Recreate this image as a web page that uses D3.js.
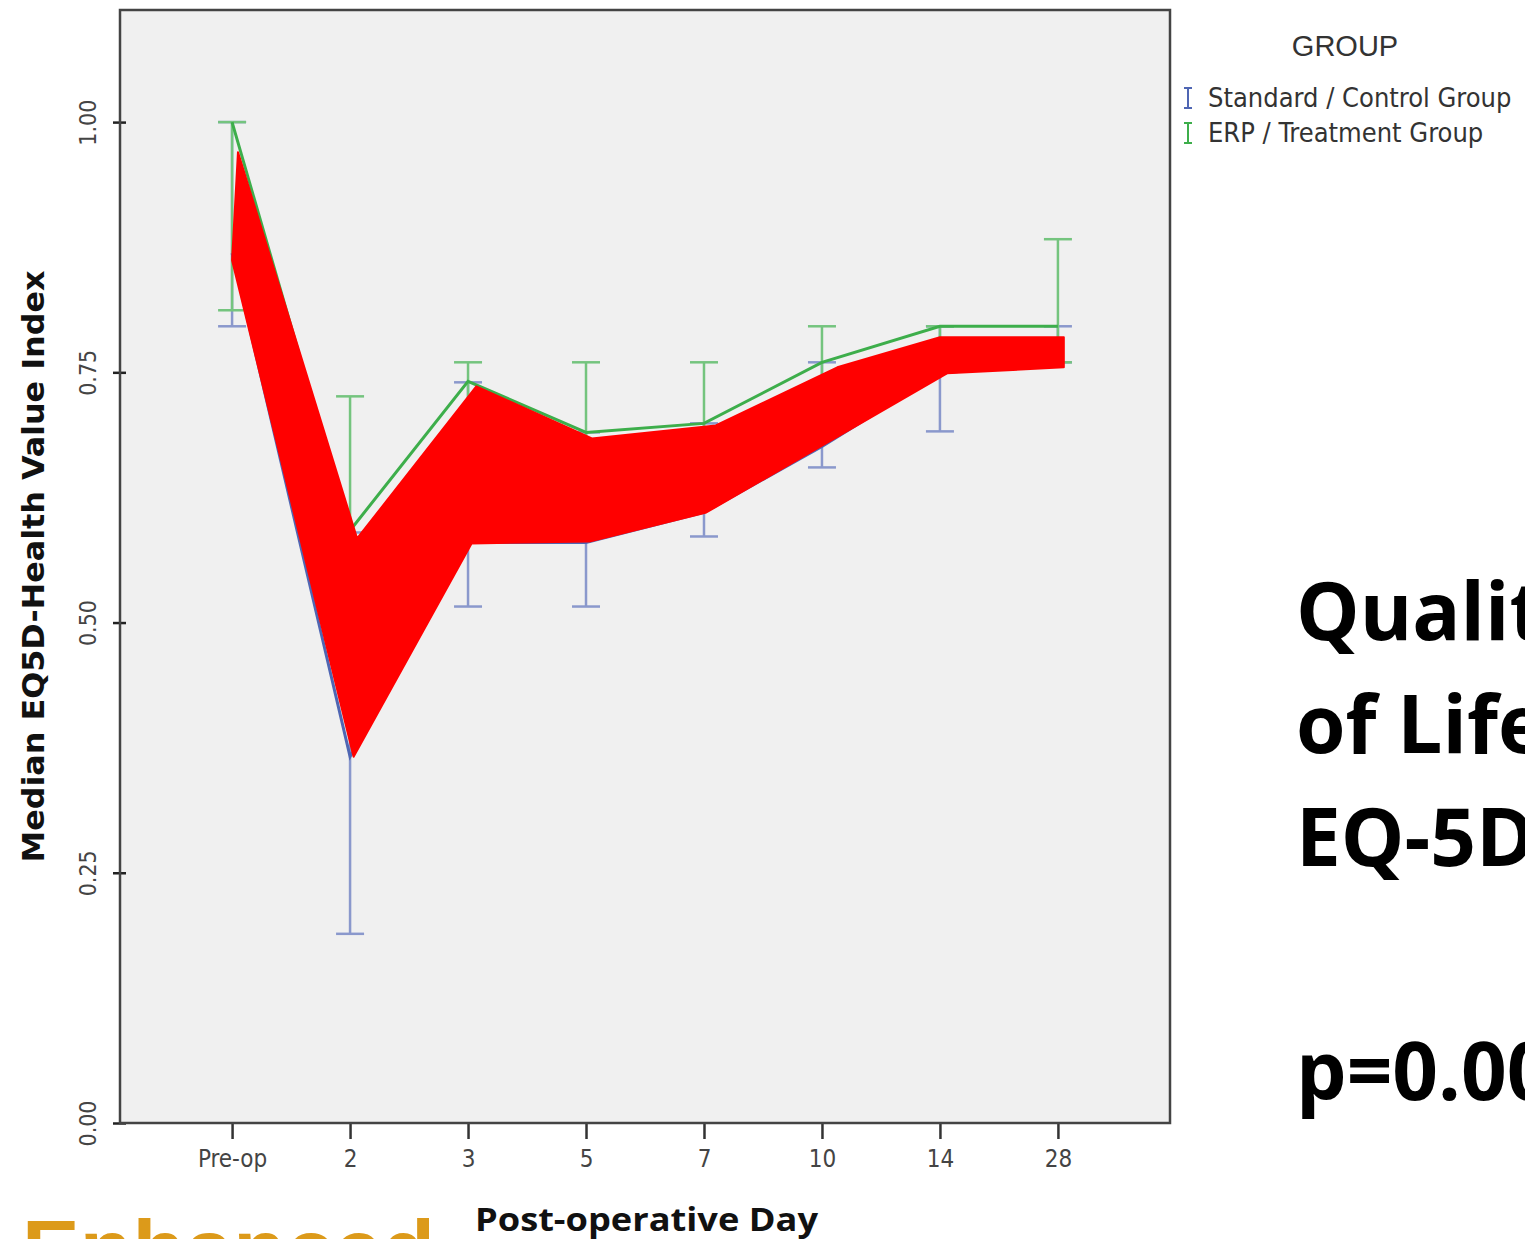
<!DOCTYPE html>
<html>
<head>
<meta charset="utf-8">
<script src="https://cdn.jsdelivr.net/npm/d3@7"></script>
<style>
  body { margin: 0; background: #fff; }
  svg { display: block; }
</style>
</head>
<body>
<svg id="chart"></svg>
<script>
// Data
var days = ["Pre-op", "2", "3", "5", "7", "10", "14", "28"];
var yTicks = [0, 0.25, 0.5, 0.75, 1.0];

// ERP / Treatment group
var erpMedian = [1.00, 0.592, 0.741, 0.690, 0.699, 0.760, 0.796, 0.796];
var erpLow    = [0.812, 0.46, 0.66, 0.62, 0.64, 0.70, 0.760, 0.760];
var erpHigh   = [1.00, 0.726, 0.760, 0.760, 0.760, 0.796, 0.796, 0.883];

// Standard / Control group
var stdMedian = [0.869, 0.366, 0.58, 0.58, 0.61, 0.676, 0.749, 0.760];
var stdLow    = [0.796, 0.189, 0.516, 0.516, 0.586, 0.655, 0.691, 0.760];
var stdHigh   = [1.00, 0.59, 0.74, 0.690, 0.699, 0.760, 0.796, 0.796];

// red highlight band drawn over the chart: [day index, value]
var bandTop    = [[0.05, 0.970], [1.06, 0.584], [2.07, 0.736], [3.05, 0.684], [4.10, 0.697], [5.13, 0.755], [6.00, 0.785], [7.05, 0.785]];
var bandBottom = [[7.05, 0.755], [6.06, 0.749], [4.02, 0.610], [3.03, 0.581], [2.03, 0.579], [1.03, 0.366], [0.0, 0.862]];

var groups = ["Standard / Control Group", "ERP / Treatment Group"];

var W = 1525, H = 1239;
var plot = {left: 120, right: 1170, top: 10, bottom: 1123};
var blueLine = "#4f66b3", blueBar = "#8a98cc";
var greenLine = "#3dae4b", greenBar = "#74c47e";
var narrow = "'Liberation Sans Narrow', 'Arial Narrow', 'DejaVu Sans Condensed', sans-serif";

var svg = d3.select("#chart").attr("width", W).attr("height", H);

var x = d3.scalePoint().domain(days).range([plot.left, plot.right]).padding(0.95);
var xi = d3.scaleLinear().domain([0, days.length - 1]).range([x(days[0]), x(days[days.length - 1])]);
var y = d3.scaleLinear().domain([0, 1.112]).range([plot.bottom, plot.top]);

// plot background
svg.append("rect")
  .attr("x", plot.left).attr("y", plot.top)
  .attr("width", plot.right - plot.left).attr("height", plot.bottom - plot.top)
  .style("fill", "#f0f0f0");

// y axis
var yAxis = svg.append("g")
  .attr("transform", "translate(" + plot.left + ",0)")
  .call(d3.axisLeft(y).tickValues(yTicks).tickFormat(d3.format(".2f")).tickSize(7));
yAxis.select(".domain").remove();
yAxis.selectAll(".tick line").attr("x2", -7).attr("x1", 6).style("stroke", "#222").style("stroke-width", 2.5);
yAxis.selectAll(".tick text")
  .attr("x", 0).attr("dy", 0)
  .attr("transform", "translate(-24,0) rotate(-90)")
  .style("text-anchor", "middle")
  .style("font-family", narrow).style("font-size", "23px").style("fill", "#444");

// x axis
var xAxis = svg.append("g")
  .attr("transform", "translate(0," + plot.bottom + ")")
  .call(d3.axisBottom(x).tickSize(16));
xAxis.select(".domain").remove();
xAxis.selectAll(".tick line").style("stroke", "#333").style("stroke-width", 2.5);
xAxis.selectAll(".tick text")
  .attr("y", 27)
  .style("font-family", narrow).style("font-size", "24px").style("fill", "#444");

// frame
svg.append("rect")
  .attr("x", plot.left).attr("y", plot.top)
  .attr("width", plot.right - plot.left).attr("height", plot.bottom - plot.top)
  .style("fill", "none").style("stroke", "#444").style("stroke-width", 2.5);

// error bars
function errorBars(low, high, color, cls) {
  var g = svg.append("g").classed(cls, true).style("stroke", color).style("stroke-width", 2.5).style("fill", "none");
  days.forEach(function(d, i) {
    g.append("line").attr("x1", x(d)).attr("x2", x(d)).attr("y1", y(low[i])).attr("y2", y(high[i]));
    g.append("line").attr("x1", x(d) - 14).attr("x2", x(d) + 14).attr("y1", y(low[i])).attr("y2", y(low[i]));
    g.append("line").attr("x1", x(d) - 14).attr("x2", x(d) + 14).attr("y1", y(high[i])).attr("y2", y(high[i]));
  });
}
errorBars(stdLow, stdHigh, blueBar, "std-bars");
errorBars(erpLow, erpHigh, greenBar, "erp-bars");

// median lines
var line = d3.line().x(function(d, i) { return x(days[i]); }).y(function(d) { return y(d); });
svg.append("path").datum(stdMedian).attr("d", line)
  .style("fill", "none").style("stroke", blueLine).style("stroke-width", 3);
svg.append("path").datum(erpMedian).attr("d", line)
  .style("fill", "none").style("stroke", greenLine).style("stroke-width", 3);

// red highlight band
var band = bandTop.concat(bandBottom);
var bandLine = d3.line()
  .x(function(d) { return xi(d[0]); })
  .y(function(d) { return y(d[1]); })
  .curve(d3.curveLinearClosed);
svg.append("path")
  .datum(band)
  .attr("d", bandLine)
  .style("fill", "#ff0000").style("stroke", "#ff0000").style("stroke-width", 2).style("stroke-linejoin", "round");

// axis titles
svg.append("text")
  .text("Median EQ5D-Health Value Index")
  .attr("transform", "translate(44," + (plot.top + plot.bottom) / 2 + ") rotate(-90)")
  .attr("textLength", 592).attr("lengthAdjust", "spacingAndGlyphs")
  .style("text-anchor", "middle")
  .style("font-family", narrow).style("font-weight", "bold").style("font-size", "31px").style("fill", "#111");

svg.append("text")
  .text("Post-operative Day")
  .attr("x", 475).attr("y", 1231)
  .attr("textLength", 343).attr("lengthAdjust", "spacingAndGlyphs")
  .style("font-family", "'Open Sans', sans-serif").style("font-weight", "bold").style("font-size", "33px").style("fill", "#111");

// legend
var legend = svg.append("g");
legend.append("text").text("GROUP")
  .attr("x", 1345).attr("y", 56)
  .style("text-anchor", "middle")
  .style("font-family", "'Liberation Sans', Arial, sans-serif").style("font-size", "29px").style("fill", "#333");
[blueLine, greenLine].forEach(function(c, i) {
  var ly = 98 + i * 35;
  var gi = legend.append("g").style("stroke", c).style("stroke-width", 2);
  gi.append("line").attr("x1", 1188).attr("x2", 1188).attr("y1", ly - 10).attr("y2", ly + 10);
  gi.append("line").attr("x1", 1184).attr("x2", 1192).attr("y1", ly - 10).attr("y2", ly - 10);
  gi.append("line").attr("x1", 1184).attr("x2", 1192).attr("y1", ly + 10).attr("y2", ly + 10);
  legend.append("text").text(groups[i])
    .attr("x", 1208).attr("y", ly + 9)
    .style("font-family", narrow).style("font-size", "27px").style("fill", "#333");
});

// side annotation (cut off by the right edge, as in the source image)
var side = ["Quality", "of Life", "EQ-5D"];
side.forEach(function(t, i) {
  svg.append("text").text(t)
    .attr("x", 1296).attr("y", 640 + i * 113)
    .style("font-family", "'Open Sans', sans-serif").style("font-weight", "bold").style("font-size", "80px").style("fill", "#000");
});
svg.append("text").text("p=0.00")
  .attr("x", 1296).attr("y", 1100)
  .style("font-family", "'Open Sans', sans-serif").style("font-weight", "bold").style("font-size", "80px").style("fill", "#000");

// cut-off footer word
svg.append("text").text("Enhanced")
  .attr("x", 22).attr("y", 1276)
  .attr("textLength", 413).attr("lengthAdjust", "spacingAndGlyphs")
  .style("font-family", "'Liberation Sans', Arial, sans-serif").style("font-weight", "bold").style("font-size", "80px").style("fill", "#dc9a1a");
</script>
</body>
</html>
